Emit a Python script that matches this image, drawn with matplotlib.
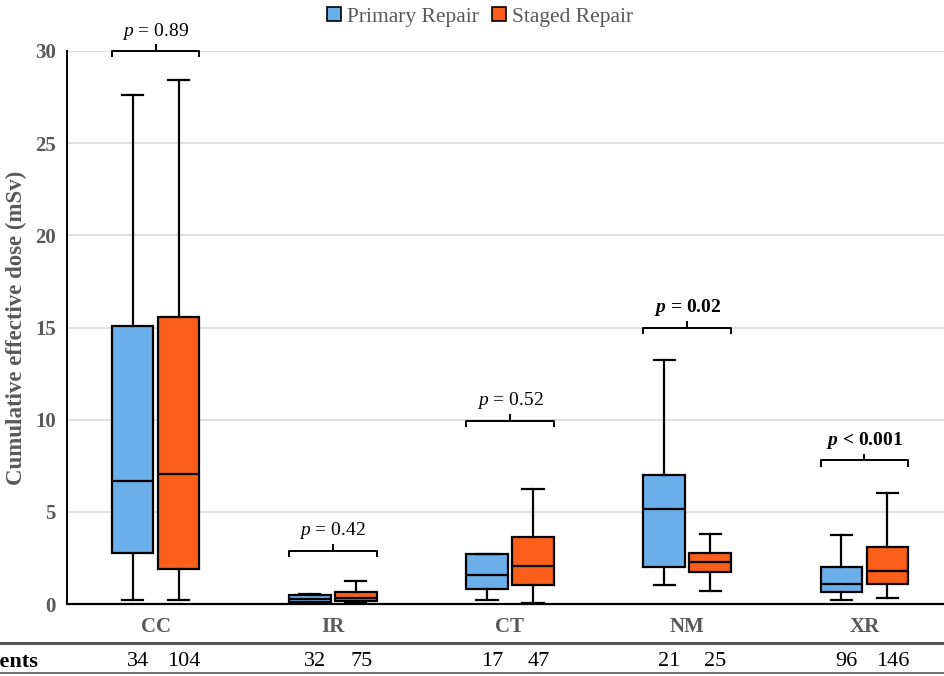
import numpy as np
import matplotlib
matplotlib.use("Agg")
import matplotlib.pyplot as plt
from matplotlib.patches import Patch

plt.rcParams["font.family"] = ["Liberation Serif", "DejaVu Serif"]
plt.rcParams["mathtext.fontset"] = "custom"
plt.rcParams["mathtext.rm"] = "Liberation Serif"
plt.rcParams["mathtext.it"] = "Liberation Serif:italic"
plt.rcParams["mathtext.bf"] = "Liberation Serif:bold"
plt.rcParams["mathtext.bfit"] = "Liberation Serif:italic:bold"

categories = ["CC", "IR", "CT", "NM", "XR"]
groups = ["Primary Repair", "Staged Repair"]

# five-number summaries: whislo, q1, median, q3, whishi
primary = [
    [0.20, 2.77, 6.67, 15.08, 27.60],
    [0.03, 0.10, 0.29, 0.49, 0.54],
    [0.22, 0.81, 1.56, 2.73, 2.73],
    [1.05, 1.99, 5.14, 7.00, 13.24],
    [0.22, 0.63, 1.07, 1.99, 3.74],
]
staged = [
    [0.20, 1.90, 7.05, 15.57, 28.40],
    [0.03, 0.16, 0.34, 0.63, 1.25],
    [0.05, 1.05, 2.08, 3.64, 6.22],
    [0.69, 1.72, 2.26, 2.79, 3.80],
    [0.35, 1.07, 1.77, 3.09, 6.00],
]
p_labels = ["0.89", "0.42", "0.52", "0.02", "< 0.001"]
p_bold = [False, False, False, True, True]
bracket_y = [30.0, 2.9, 9.95, 15.0, 7.8]
n_primary = [34, 32, 17, 21, 96]
n_staged = [104, 75, 47, 25, 146]

colors = ["#6AAEEA", "#FA5E1B"]
GRAY = "#595959"

fig = plt.figure(figsize=(9.45, 6.76), dpi=100)
ax = fig.add_axes([67 / 945, 72 / 676, 886 / 945, 553 / 676])

off, w = 0.13, 0.235
x = np.arange(len(categories))
for series, sign, col in [(primary, -1, colors[0]), (staged, 1, colors[1])]:
    stats = [dict(whislo=s[0], q1=s[1], med=s[2], q3=s[3], whishi=s[4], fliers=[])
             for s in series]
    ax.bxp(stats, positions=x + sign * off, widths=w, patch_artist=True,
           showfliers=False, capwidths=0.12,
           boxprops=dict(facecolor=col, edgecolor="black", lw=1.6),
           medianprops=dict(color="black", lw=1.6),
           whiskerprops=dict(color="black", lw=1.6),
           capprops=dict(color="black", lw=1.6))

# significance brackets
for i, (yb, lab, bold) in enumerate(zip(bracket_y, p_labels, p_bold)):
    x0, x1 = i - off - w / 2, i + off + w / 2
    ax.plot([x0, x0, x1, x1], [yb - 0.35, yb, yb, yb - 0.35], color="black", lw=1.4,
            clip_on=False, solid_capstyle="butt")
    ax.plot([i, i], [yb, yb + 0.3], color="black", lw=1.4, clip_on=False)
    eq = "<" if lab.startswith("<") else "="
    num = lab.lstrip("< ")
    if bold:
        s = r"$\mathbfit{p}$ " + eq + " " + num
    else:
        s = r"$p$ " + eq + " " + num
    ax.text(i, yb + 0.5, s, ha="center", va="bottom", fontsize=14,
            fontweight="bold" if bold else "normal", color="black", clip_on=False)

ax.set_xlim(-0.5, 4.5)
ax.set_ylim(0, 30)
ax.set_yticks(range(0, 31, 5))
ax.set_xticks(x)
ax.set_xticklabels(categories)
ax.tick_params(axis="both", length=0, labelsize=15, labelcolor=GRAY)
for t in ax.get_yticklabels() + ax.get_xticklabels():
    t.set_fontweight("bold")
ax.tick_params(axis="x", pad=9)
ax.tick_params(axis="y", pad=8)
ax.yaxis.grid(True, color="#DADADA", lw=1.2)
ax.set_axisbelow(True)
for sp in ["top", "right"]:
    ax.spines[sp].set_visible(False)
ax.spines["left"].set_linewidth(1.4)
ax.spines["bottom"].set_linewidth(1.6)
ax.set_ylabel("Cumulative effective dose (mSv)", fontsize=16.5, fontweight="bold",
              color=GRAY, labelpad=6)

# legend
handles = [Patch(facecolor=c, edgecolor="black", lw=1.2) for c in colors]
fig.legend(handles, groups, loc="center", bbox_to_anchor=(0.508, 0.975), ncol=2,
           frameon=False, fontsize=15.5, handlelength=0.65, handleheight=0.65,
           handletextpad=0.3, columnspacing=0.6, labelcolor=GRAY)

# patient count table
fig.add_artist(plt.Line2D([0, 1], [1 - 643 / 676] * 2, color="#555555", lw=2.2))
fig.add_artist(plt.Line2D([0, 1], [1 - 673 / 676] * 2, color="#555555", lw=1.2))
fig.text(38 / 945, 1 - 662 / 676, "Patients", ha="right", va="center", fontsize=16,
         fontweight="bold", color="black")
row_y = 1 - 662 / 676
for i in range(len(categories)):
    for xv, n in [(i - off + 0.03, n_primary[i]), (i + off + 0.03, n_staged[i])]:
        xf = fig.transFigure.inverted().transform(ax.transData.transform((xv, 0)))[0]
        fig.text(xf, row_y, str(n), ha="center", va="center", fontsize=16, color="black")

fig.savefig("out.png", dpi=100)
